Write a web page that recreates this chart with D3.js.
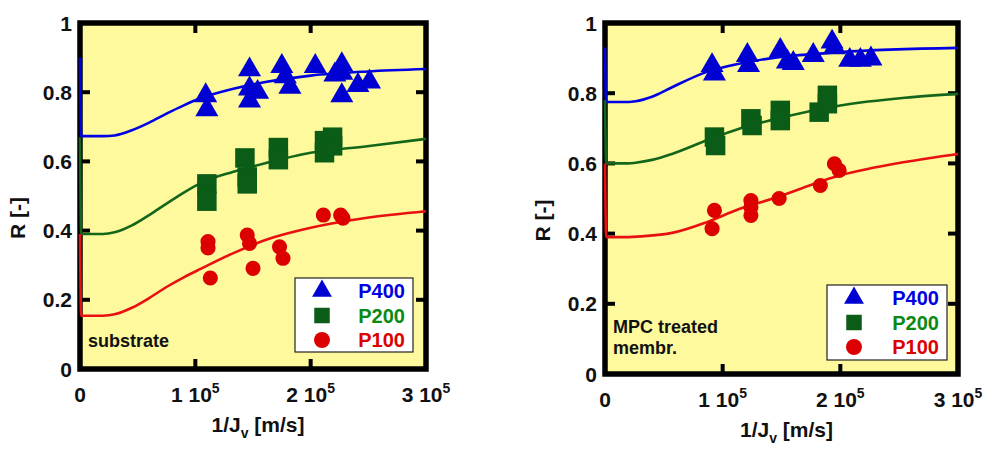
<!DOCTYPE html>
<html>
<head>
<meta charset="utf-8">
<script src="https://cdn.jsdelivr.net/npm/d3@7"></script>
<style>
  body { margin: 0; background: #fff; }
  text { font-family: "Liberation Sans", Arial, Helvetica, sans-serif; font-weight: bold; }
</style>
</head>
<body>
<svg id="chart" width="987" height="449"></svg>
<script>
// axis ticks
const xTicks = [0, 1e5, 2e5, 3e5];
const yTicks = [0, 0.2, 0.4, 0.6, 0.8, 1];
const seriesNames = ["P400", "P200", "P100"];

// left panel: substrate  [1/Jv, R]
const subP400 = [[1.09e5, 0.79], [1.1e5, 0.75], [1.47e5, 0.865], [1.47e5, 0.81], [1.47e5, 0.775], [1.54e5, 0.80],
  [1.75e5, 0.875], [1.78e5, 0.845], [1.82e5, 0.815], [2.04e5, 0.875], [2.27e5, 0.88], [2.21e5, 0.85],
  [2.27e5, 0.855], [2.27e5, 0.79], [2.41e5, 0.82], [2.51e5, 0.83]];
const subP200 = [[1.1e5, 0.535], [1.1e5, 0.485], [1.43e5, 0.61], [1.45e5, 0.555], [1.45e5, 0.535],
  [1.72e5, 0.64], [1.72e5, 0.605], [2.12e5, 0.625], [2.12e5, 0.66], [2.19e5, 0.67], [2.19e5, 0.645]];
const subP100 = [[1.11e5, 0.368], [1.11e5, 0.35], [1.13e5, 0.263], [1.45e5, 0.387], [1.47e5, 0.363], [1.5e5, 0.291],
  [1.73e5, 0.353], [1.76e5, 0.32], [2.11e5, 0.445], [2.26e5, 0.445], [2.28e5, 0.436]];
const subFitP400 = [[0, 0.90], [1e3, 0.673], [2e4, 0.673], [3e4, 0.675], [4.5e4, 0.69], [6e4, 0.712], [7.5e4, 0.738],
  [9e4, 0.762], [1.05e5, 0.783], [1.33e5, 0.81], [1.62e5, 0.83], [2e5, 0.848], [2.49e5, 0.86], [3e5, 0.867]];
const subFitP200 = [[0, 0.67], [1e3, 0.39], [2e4, 0.39], [3e4, 0.395], [4.5e4, 0.415], [6e4, 0.445], [7.5e4, 0.478],
  [9e4, 0.51], [1.05e5, 0.538], [1.33e5, 0.57], [1.62e5, 0.596], [2e5, 0.625], [2.49e5, 0.644], [3e5, 0.665]];
const subFitP100 = [[0, 0.39], [1e3, 0.154], [2e4, 0.154], [3e4, 0.158], [4.5e4, 0.177], [6e4, 0.205], [7.5e4, 0.237],
  [9e4, 0.265], [1.05e5, 0.29], [1.33e5, 0.335], [1.62e5, 0.374], [2e5, 0.408], [2.49e5, 0.437], [3e5, 0.456]];

// right panel: MPC treated membrane
const mpcP400 = [[0.91e5, 0.879], [0.93e5, 0.855], [1.21e5, 0.908], [1.22e5, 0.879], [1.49e5, 0.922], [1.55e5, 0.889],
  [1.6e5, 0.885], [1.77e5, 0.908], [1.93e5, 0.946], [1.95e5, 0.93], [2.08e5, 0.894], [2.17e5, 0.894], [2.26e5, 0.898]];
const mpcP200 = [[0.93e5, 0.675], [0.94e5, 0.651], [1.24e5, 0.727], [1.25e5, 0.708], [1.49e5, 0.751], [1.49e5, 0.722],
  [1.82e5, 0.746], [1.89e5, 0.794], [1.89e5, 0.77]];
const mpcP100 = [[0.93e5, 0.466], [0.91e5, 0.414], [1.24e5, 0.494], [1.24e5, 0.475], [1.24e5, 0.452], [1.48e5, 0.50],
  [1.83e5, 0.537], [1.95e5, 0.599], [1.99e5, 0.58]];
const mpcFitP400 = [[0, 0.93], [1e3, 0.775], [2e4, 0.775], [2.6e4, 0.777], [4e4, 0.79], [5.7e4, 0.817], [8.6e4, 0.86],
  [1.14e5, 0.884], [1.42e5, 0.90], [2e5, 0.917], [3e5, 0.929]];
const mpcFitP200 = [[0, 0.78], [1e3, 0.60], [2e4, 0.60], [2.6e4, 0.602], [4e4, 0.61], [5.7e4, 0.627], [8.6e4, 0.665],
  [1.14e5, 0.699], [1.42e5, 0.724], [2e5, 0.765], [2.55e5, 0.787], [3e5, 0.798]];
const mpcFitP100 = [[0, 0.60], [1e3, 0.39], [2e4, 0.39], [3e4, 0.392], [5.7e4, 0.402], [8.6e4, 0.432],
  [1.14e5, 0.47], [1.42e5, 0.499], [2e5, 0.566], [2.55e5, 0.604], [3e5, 0.627]];

const markerColors = ["#0000d2", "#0a5c17", "#dc0000"];
const lineColors = ["#0000e6", "#13661a", "#e81010"];
const legendColors = ["#0000e0", "#0a8a12", "#dc0000"];
const symbols = [d3.symbolTriangle, d3.symbolSquare, d3.symbolCircle];
const symbolSizes = [230, 380, 180];

const svg = d3.select("#chart");

function drawPanel(cfg) {
  const { left, top, w, h } = cfg;
  const x = d3.scaleLinear().domain([0, 3e5]).range([left, left + w]);
  const y = d3.scaleLinear().domain([0, 1]).range([top + h, top]);
  const g = svg.append("g");

  g.append("rect").attr("x", left).attr("y", top).attr("width", w).attr("height", h).attr("fill", "#fef99c");

  // inward ticks on all sides
  const tl = 10;
  const ticks = g.append("g").attr("stroke", "#000").attr("stroke-width", 4);
  yTicks.slice(1, -1).forEach(t => {
    ticks.append("line").attr("x1", left).attr("x2", left + tl).attr("y1", y(t)).attr("y2", y(t));
    ticks.append("line").attr("x1", left + w).attr("x2", left + w - tl).attr("y1", y(t)).attr("y2", y(t));
  });
  xTicks.slice(1, -1).forEach(t => {
    ticks.append("line").attr("x1", x(t)).attr("x2", x(t)).attr("y1", top + h).attr("y2", top + h - tl);
    ticks.append("line").attr("x1", x(t)).attr("x2", x(t)).attr("y1", top).attr("y2", top + tl);
  });

  g.append("rect").attr("x", left).attr("y", top).attr("width", w).attr("height", h)
    .attr("fill", "none").attr("stroke", "#000").attr("stroke-width", 5.5);

  // fitted curves, drawn over the frame
  const line = d3.line().x(d => x(d[0])).y(d => y(d[1])).curve(d3.curveMonotoneX);
  cfg.fits.forEach((f, i) => {
    g.append("path").datum(f).attr("d", line).attr("fill", "none")
      .attr("stroke", lineColors[i]).attr("stroke-width", 2.6);
  });

  // data markers
  cfg.points.forEach((pts, i) => {
    g.selectAll(null).data(pts).enter().append("path")
      .attr("d", d3.symbol().type(symbols[i]).size(symbolSizes[i]))
      .attr("transform", d => `translate(${x(d[0])},${y(d[1])})`)
      .attr("fill", markerColors[i]);
  });

  // tick labels
  g.selectAll(null).data(yTicks).enter().append("text")
    .attr("x", left - 8).attr("y", d => y(d)).attr("dy", "0.36em")
    .attr("text-anchor", "end").attr("font-size", 21).attr("fill", "#111")
    .text(d => d === 0 || d === 1 ? d : d3.format(".1f")(d));

  xTicks.forEach(t => {
    const tx = g.append("text").attr("x", x(t)).attr("y", top + h + 33)
      .attr("text-anchor", "middle").attr("font-size", 21).attr("fill", "#111");
    if (t === 0) { tx.text("0"); return; }
    tx.append("tspan").text(`${t / 1e5} 10`);
    tx.append("tspan").attr("dy", -9).attr("font-size", 14).text("5");
  });

  // axis titles
  const xt = g.append("text").attr("x", left + w / 2 + 5).attr("y", top + h + 63)
    .attr("text-anchor", "middle").attr("font-size", 21).attr("fill", "#111");
  xt.append("tspan").text("1/J");
  xt.append("tspan").attr("dy", 6).attr("font-size", 14).text("v");
  xt.append("tspan").attr("dy", -6).text(" [m/s]");

  g.append("text").attr("transform", `translate(${left - 55},${top + h / 2 + 22}) rotate(-90)`)
    .attr("text-anchor", "middle").attr("font-size", 21).attr("fill", "#111").text("R [-]");

  // label
  cfg.label.forEach((s, i) => {
    g.append("text").attr("x", left + 8).attr("y", cfg.labelY + i * 21)
      .attr("font-size", 18).attr("fill", "#111").text(s);
  });

  // legend
  const L = cfg.legend;
  g.append("rect").attr("x", L.x).attr("y", L.y).attr("width", L.w).attr("height", L.h)
    .attr("fill", "#fff").attr("stroke", "#222").attr("stroke-width", 1.2);
  seriesNames.forEach((name, i) => {
    const cy = L.y + 13 + i * 24.5;
    g.append("path").attr("d", d3.symbol().type(symbols[i]).size([170, 240, 200][i]))
      .attr("transform", `translate(${L.x + 27},${cy})`).attr("fill", markerColors[i]);
    g.append("text").attr("x", L.x + L.w - 8).attr("y", cy).attr("dy", "0.36em")
      .attr("text-anchor", "end").attr("font-size", 20).attr("fill", legendColors[i]).text(name);
  });
}

drawPanel({
  left: 80, top: 23, w: 346, h: 346,
  points: [subP400, subP200, subP100],
  fits: [subFitP400, subFitP200, subFitP100],
  label: ["substrate"], labelY: 347,
  legend: { x: 295, y: 278, w: 118, h: 74 }
});

drawPanel({
  left: 605, top: 23, w: 353, h: 351,
  points: [mpcP400, mpcP200, mpcP100],
  fits: [mpcFitP400, mpcFitP200, mpcFitP100],
  label: ["MPC treated", "membr."], labelY: 333,
  legend: { x: 827, y: 285, w: 120, h: 75 }
});
</script>
</body>
</html>
